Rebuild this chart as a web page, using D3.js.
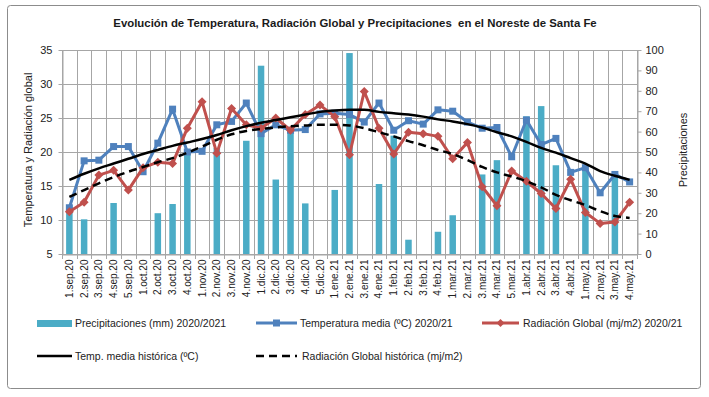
<!DOCTYPE html>
<html><head><meta charset="utf-8">
<script src="https://cdn.jsdelivr.net/npm/d3@7/dist/d3.min.js"></script>
<style>body{margin:0;background:#fff}svg{display:block}</style>
</head><body><svg id="c" width="709" height="397"></svg>
<script>
const categories = ["1.sep.20","2.sep.20","3.sep.20","4.sep.20","5.sep.20","1.oct.20","2.oct.20","3.oct.20","4.oct.20","1.nov.20","2.nov.20","3.nov.20","4.nov.20","1.dic.20","2.dic.20","3.dic.20","4.dic.20","5.dic.20","1.ene.21","2.ene.21","3.ene.21","4.ene.21","1.feb.21","2.feb.21","3.feb.21","4.feb.21","1.mar.21","2.mar.21","3.mar.21","4.mar.21","5.mar.21","1.abr.21","2.abr.21","3.abr.21","4.abr.21","1.may.21","2.may.21","3.may.21","4.may.21"];
const precip = [23,17,0,25,0,0,20,24.5,50,0,52,0,55.5,92.3,36.5,61,24.8,0,31.4,98.5,0,34.3,58,7,0,10.9,19,0,39,46,0,67.5,72.5,43.5,0,40.8,0,39.5,0];
const tempMedia = [11.8,18.7,18.8,20.8,20.8,17.1,21.3,26.3,20.0,20.1,24.0,24.5,27.2,22.7,24.0,23.2,23.3,25.6,25.7,25.5,24.4,27.2,23.2,24.6,24.1,26.2,26.0,24.4,23.5,23.6,19.3,24.7,21.1,22.0,17.0,17.7,14.0,16.7,15.6];
const radGlobal = [11.2,12.6,16.6,17.3,14.4,17.7,18.5,18.3,23.5,27.4,19.8,26.4,24.0,23.5,25.0,23.2,25.5,26.9,25.2,19.6,28.9,23.5,19.7,22.9,22.7,22.3,19.0,21.4,14.9,12.1,17.2,15.7,13.9,11.7,16.0,11.1,9.5,9.7,12.6];
const tempHist = [15.9,16.8,17.6,18.3,19.0,19.7,20.3,20.9,21.4,21.9,22.5,23.2,23.8,24.3,24.7,25.1,25.5,25.9,26.1,26.2,26.2,25.9,25.7,25.5,25.2,24.8,24.5,24.1,23.6,22.9,22.3,21.5,20.6,19.9,19.1,18.3,17.2,16.5,15.9];
const radHist = [13.4,14.4,15.4,16.3,17.1,17.8,18.5,19.1,19.9,20.8,21.8,22.6,23.1,23.4,23.6,23.8,23.9,24.0,24.0,23.9,23.5,22.9,22.3,21.6,21.0,20.3,19.7,18.8,17.8,17.0,16.4,15.7,14.8,13.7,12.9,12.2,11.3,10.6,10.3];
const leftTicks = [5,10,15,20,25,30,35];
const rightTicks = [0,10,20,30,40,50,60,70,80,90,100];

const FONT = "'Liberation Sans',Arial,sans-serif";
const svg = d3.select('#c').style('font-family', FONT);
const m = {l:62, r:637, t:50, b:254};
const grid = '#a6a6a6';

svg.append('rect').attr('x',7.5).attr('y',5.5).attr('width',693).attr('height',383)
  .attr('rx',3).attr('fill','#fff').attr('stroke','#8c8c8c').attr('stroke-width',1);

svg.append('text').attr('x',355).attr('y',27).attr('text-anchor','middle')
  .attr('font-size',11.4).attr('font-weight','bold').attr('fill','#1a1a1a')
  .style('white-space','pre')
  .text('Evolución de Temperatura, Radiación Global y Precipitaciones  en el Noreste de Santa Fe');

const x = d3.scaleBand().domain(categories).range([m.l, m.r]).padding(0);
const bw = x.bandwidth();
const yL = d3.scaleLinear().domain([5,35]).range([m.b, m.t]);
const yR = d3.scaleLinear().domain([0,100]).range([m.b, m.t]);
const cx = c => x(c) + bw/2;

// horizontal gridlines
svg.append('g').selectAll('line').data(leftTicks).join('line')
  .attr('x1', m.l).attr('x2', m.r).attr('y1', d=>Math.round(yL(d))+0.5).attr('y2', d=>Math.round(yL(d))+0.5)
  .attr('stroke', grid).attr('stroke-width',1);
// vertical gridlines at category boundaries (with tick below axis)
const bounds = d3.range(categories.length+1).map(i => m.l + i*x.step());
svg.append('g').selectAll('line').data(bounds).join('line')
  .attr('x1', d=>Math.round(d)+0.5).attr('x2', d=>Math.round(d)+0.5)
  .attr('y1', m.t).attr('y2', m.b+5)
  .attr('stroke', grid).attr('stroke-width',1);

// left axis
const axL = svg.append('g').attr('transform',`translate(${m.l+0.5},0)`)
  .call(d3.axisLeft(yL).tickValues(leftTicks).tickSize(4).tickSizeOuter(0).tickPadding(6));
axL.select('.domain').attr('stroke', grid);
axL.selectAll('.tick line').attr('stroke', grid);
axL.selectAll('text').attr('font-size',11).attr('fill','#222').style('font-family',FONT);

// right axis
const axR = svg.append('g').attr('transform',`translate(${m.r+0.5},0)`)
  .call(d3.axisRight(yR).tickValues(rightTicks).tickSize(4).tickSizeOuter(0).tickPadding(4));
axR.select('.domain').attr('stroke', grid);
axR.selectAll('.tick line').attr('stroke', grid);
axR.selectAll('text').attr('font-size',11).attr('fill','#222').style('font-family',FONT);

// bottom axis
const axB = svg.append('g').attr('transform',`translate(0,${m.b+0.5})`)
  .call(d3.axisBottom(x).tickSize(0).tickSizeOuter(0).tickPadding(0));
axB.select('.domain').attr('stroke', grid);
axB.selectAll('text').attr('font-size',10).attr('fill','#222').style('font-family',FONT)
  .attr('text-anchor','end').attr('dy','0.35em')
  .attr('transform','translate(0,5) rotate(-90)');

// axis titles
svg.append('text').attr('transform','translate(32,150) rotate(-90)').attr('text-anchor','middle')
  .attr('font-size',11).attr('fill','#222').text('Temperatura y Radiación global');
svg.append('text').attr('transform','translate(687,150) rotate(-90)').attr('text-anchor','middle')
  .attr('font-size',11).attr('fill','#222').text('Precipitaciones');

// bars
const barW = 6.5;
svg.append('g').selectAll('rect').data(categories.map((c,i)=>({c, v:precip[i]})).filter(d=>d.v>0)).join('rect')
  .attr('x', d=>cx(d.c)-barW/2).attr('width', barW)
  .attr('y', d=>yR(d.v)).attr('height', d=>yR(0)-yR(d.v))
  .attr('fill','#4bacc6');

const line = d3.line().x(d=>cx(d.c)).y(d=>yL(d.v));
const ser = arr => categories.map((c,i)=>({c, v:arr[i]}));

// temperatura media
svg.append('path').datum(ser(tempMedia)).attr('d', line).attr('fill','none')
  .attr('stroke','#4f81bd').attr('stroke-width',3).attr('stroke-linejoin','round');
svg.append('g').selectAll('rect').data(ser(tempMedia)).join('rect')
  .attr('x', d=>cx(d.c)-3.5).attr('y', d=>yL(d.v)-3.5).attr('width',7).attr('height',7)
  .attr('fill','#4f81bd');

// radiación global
svg.append('path').datum(ser(radGlobal)).attr('d', line).attr('fill','none')
  .attr('stroke','#c0504d').attr('stroke-width',3).attr('stroke-linejoin','round');
svg.append('g').selectAll('path').data(ser(radGlobal)).join('path')
  .attr('d', d=>{const X=cx(d.c), Y=yL(d.v); return `M${X},${Y-4.5}L${X+4.5},${Y}L${X},${Y+4.5}L${X-4.5},${Y}Z`;})
  .attr('fill','#c0504d');

// históricas
svg.append('path').datum(ser(tempHist)).attr('d', line.curve(d3.curveMonotoneX)).attr('fill','none')
  .attr('stroke','#000').attr('stroke-width',2.5);
svg.append('path').datum(ser(radHist)).attr('d', line.curve(d3.curveMonotoneX)).attr('fill','none')
  .attr('stroke','#000').attr('stroke-width',2.5).attr('stroke-dasharray','8,5');

// legend
const lg = svg.append('g').attr('font-size',10.5).attr('fill','#222');
const r1 = 323, r2 = 356;
lg.append('rect').attr('x',37).attr('y',r1-3).attr('width',35).attr('height',7).attr('fill','#4bacc6');
lg.append('text').attr('x',75).attr('y',r1).attr('dy','0.35em').text('Precipitaciones (mm) 2020/2021');
lg.append('line').attr('x1',256).attr('x2',297).attr('y1',r1).attr('y2',r1).attr('stroke','#4f81bd').attr('stroke-width',3);
lg.append('rect').attr('x',273).attr('y',r1-3.5).attr('width',7).attr('height',7).attr('fill','#4f81bd');
lg.append('text').attr('x',300).attr('y',r1).attr('dy','0.35em').text('Temperatura media (ºC) 2020/21');
lg.append('line').attr('x1',482).attr('x2',519).attr('y1',r1).attr('y2',r1).attr('stroke','#c0504d').attr('stroke-width',3);
lg.append('path').attr('d',`M500.5,${r1-4}L504.5,${r1}L500.5,${r1+4}L496.5,${r1}Z`).attr('fill','#c0504d');
lg.append('text').attr('x',523).attr('y',r1).attr('dy','0.35em').text('Radiación Global (mj/m2) 2020/21');
lg.append('line').attr('x1',37).attr('x2',72).attr('y1',r2).attr('y2',r2).attr('stroke','#000').attr('stroke-width',2.5);
lg.append('text').attr('x',75).attr('y',r2).attr('dy','0.35em').text('Temp. media histórica (ºC)');
lg.append('line').attr('x1',256).attr('x2',297).attr('y1',r2).attr('y2',r2).attr('stroke','#000').attr('stroke-width',2.5).attr('stroke-dasharray','8,5');
lg.append('text').attr('x',302).attr('y',r2).attr('dy','0.35em').text('Radiación Global histórica (mj/m2)');
</script></body></html>
